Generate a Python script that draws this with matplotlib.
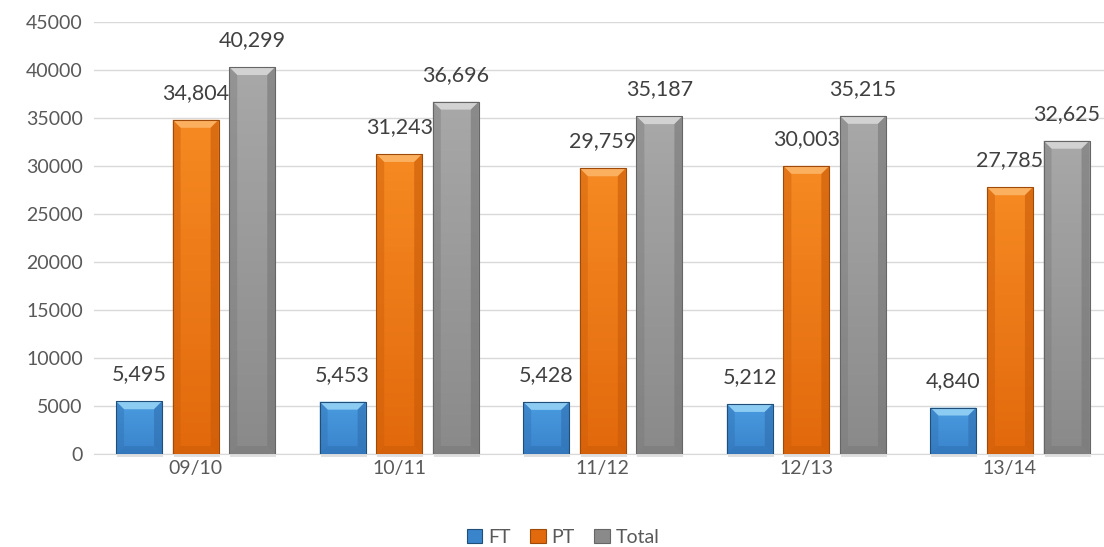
#!/usr/bin/env python3
"""Bevelled grouped bar chart of FT / PT / Total headcount by year."""

import matplotlib

matplotlib.use("Agg")
import matplotlib.pyplot as plt
import numpy as np
from matplotlib.colors import LinearSegmentedColormap
from matplotlib.patches import Polygon, Rectangle

plt.rcParams["font.family"] = ["Lato", "DejaVu Sans"]

years = ["09/10", "10/11", "11/12", "12/13", "13/14"]
series_names = ["FT", "PT", "Total"]
ft = [5495, 5453, 5428, 5212, 4840]
pt = [34804, 31243, 29759, 30003, 27785]
total = [40299, 36696, 35187, 35215, 32625]
y_ticks = [0, 5000, 10000, 15000, 20000, 25000, 30000, 35000, 40000, 45000]

# (top face, bottom face, top bevel, side bevel, edge)
palette = {
    "FT": ("#4a9be0", "#3a84cc", "#8ccbf2", "#2f6fb0", "#1f4e79"),
    "PT": ("#f68a22", "#e2690c", "#fbb060", "#c95a08", "#a04a0a"),
    "Total": ("#a8a8a8", "#8a8a8a", "#d2d2d2", "#777777", "#666666"),
}

TEXT = "#404040"
GRID = "#d9d9d9"
BAR_W = 0.226
OFFSET = 0.278
BEVEL_PX = 8


def draw_bar(ax, xc, h, name, px_x, px_y):
    top, bottom, hi, side, edge = palette[name]
    x0, x1 = xc - BAR_W / 2, xc + BAR_W / 2
    bx, by = BEVEL_PX * px_x, BEVEL_PX * px_y
    # soft shadow
    ax.add_patch(Rectangle((x0 + px_x, -3 * px_y), BAR_W, h, facecolor="#000000",
                           alpha=0.12, edgecolor="none", zorder=2, clip_on=False))
    cmap = LinearSegmentedColormap.from_list(name, [bottom, top])
    im = ax.imshow(np.linspace(0, 1, 64).reshape(-1, 1), cmap=cmap, origin="lower",
                   extent=(x0, x1, 0, h), aspect="auto", zorder=3)
    rect = Rectangle((x0, 0), BAR_W, h, facecolor="none", edgecolor=edge, lw=0.8, zorder=5)
    ax.add_patch(rect)
    im.set_clip_path(rect)
    # bevel facets
    ax.add_patch(Polygon([(x0, h), (x1, h), (x1 - bx, h - by), (x0 + bx, h - by)],
                         facecolor=hi, edgecolor="none", zorder=4))
    ax.add_patch(Polygon([(x0, 0), (x0 + bx, by), (x0 + bx, h - by), (x0, h)],
                         facecolor=side, edgecolor="none", alpha=0.4, zorder=4))
    ax.add_patch(Polygon([(x1, 0), (x1 - bx, by), (x1 - bx, h - by), (x1, h)],
                         facecolor=side, edgecolor="none", alpha=0.6, zorder=4))
    ax.add_patch(Polygon([(x0, 0), (x1, 0), (x1 - bx, by), (x0 + bx, by)],
                         facecolor=side, edgecolor="none", alpha=0.5, zorder=4))
    ax.annotate(f"{h:,}", (xc, h), xytext=(0, 12), textcoords="offset points",
                ha="center", va="bottom", fontsize=15.5, color=TEXT, zorder=6,
                annotation_clip=False)


def main():
    fig = plt.figure(figsize=(11.04, 5.47), dpi=100)
    ax = fig.add_axes([0.085, 0.170, 0.922, 0.790])
    x = np.arange(len(years))
    ax.set_xlim(-0.5, len(years) - 0.5)
    ax.set_ylim(0, 45000)

    inv = ax.transData.inverted()
    p0 = inv.transform((0, 0))
    p1 = inv.transform((1, 1))
    px_x, px_y = p1[0] - p0[0], p1[1] - p0[1]

    for i in range(len(years)):
        for k, (name, vals) in enumerate(zip(series_names, [ft, pt, total])):
            draw_bar(ax, x[i] + (k - 1) * OFFSET, vals[i], name, px_x, px_y)

    ax.set_yticks(y_ticks)
    ax.set_yticklabels([str(t) for t in y_ticks])
    ax.set_xticks(x)
    ax.set_xticklabels(years)
    ax.tick_params(axis="both", length=0, labelsize=14, colors="#595959", pad=8)
    ax.tick_params(axis="x", pad=4)
    ax.grid(axis="y", color=GRID, lw=1, zorder=0)
    ax.set_axisbelow(True)
    for side in ["top", "right", "left"]:
        ax.spines[side].set_visible(False)
    ax.spines["bottom"].set_color(GRID)

    handles = [Rectangle((0, 0), 1, 1, facecolor=palette[n][1], edgecolor=palette[n][4], lw=0.8)
               for n in series_names]
    fig.legend(handles, series_names, loc="center", bbox_to_anchor=(0.51, 0.018),
               ncol=3, frameon=False, fontsize=14, handlelength=0.8, handleheight=0.8,
               handletextpad=0.3, columnspacing=1.0, labelcolor="#595959")

    fig.savefig("out.png", dpi=100)
    plt.close(fig)


if __name__ == "__main__":
    main()
